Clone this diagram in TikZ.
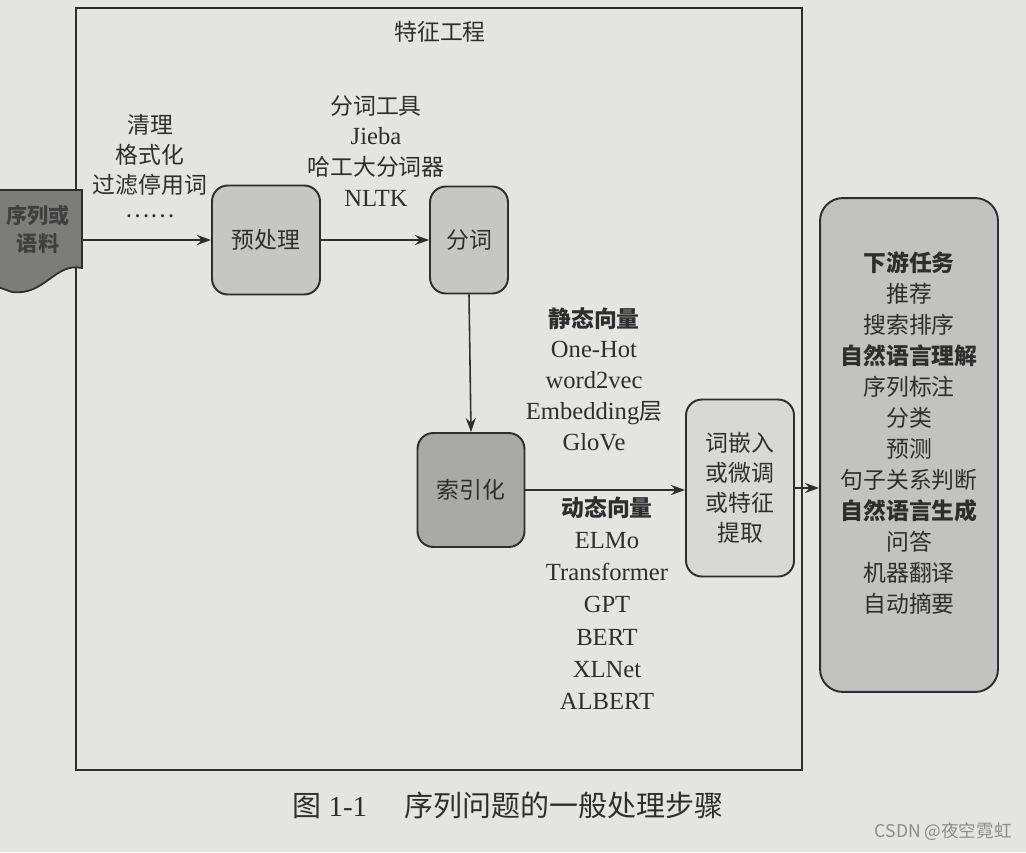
\documentclass[tikz,border=0pt]{standalone}
\usepackage{fontspec}
\setmainfont{Liberation Serif}
\newfontfamily\cjk{Noto Sans CJK SC}
\usetikzlibrary{arrows.meta}
\definecolor{paper}{HTML}{E4E4E1}
\definecolor{ink}{HTML}{2E2E2E}
\definecolor{boxA}{HTML}{C6C6C4}
\definecolor{boxB}{HTML}{A9A9A7}
\definecolor{boxC}{HTML}{D8D8D6}
\definecolor{boxD}{HTML}{C2C2C0}
\definecolor{doc}{HTML}{7C7C7A}
\tikzset{
  procbox/.style={draw=ink, line width=1.1pt, rounded corners=9pt, inner sep=0pt, align=center, font=\cjk\fontsize{13}{18}\selectfont, text=ink},
  lbl/.style={align=center, text=ink, font=\fontsize{14}{17.6}\selectfont, inner sep=0pt},
  conn/.style={draw=ink, line width=0.9pt, -{Stealth[length=0.28cm, width=0.2cm]}}
}
\begin{document}
\begin{tikzpicture}[x=0.02cm, y=-0.02cm]
\useasboundingbox (0,0) rectangle (1026,852);
\fill[paper] (0,0) rectangle (1026,852);
% frame
\draw[ink, line width=0.9pt] (76,8) rectangle (802,770);
\node[lbl, font=\cjk\fontsize{13}{17}\selectfont] (title) at (440,32) {特征工程};
% corpus document shape
\draw[ink, line width=1pt, fill=doc] (-5,190) -- (82,190) -- (82,268)
  .. controls (55,262) and (45,296) .. (12,292) -- (-5,286) -- cycle;
\node[lbl, font=\cjk\bfseries\fontsize{12}{16}\selectfont, text=black!75] (corpus) at (38,229) {序列或\\语料};
\coordinate (corpusout) at (82,240);
% boxes
\node[procbox, fill=boxA, minimum width=2.16cm, minimum height=2.18cm] (pre) at (266,240) {预处理};
\node[procbox, fill=boxA, minimum width=1.56cm, minimum height=2.14cm] (seg) at (469,240) {分词};
\node[procbox, fill=boxB, minimum width=2.14cm, minimum height=2.28cm] (idx) at (471,490) {索引化};
\node[procbox, fill=boxC, minimum width=2.16cm, minimum height=3.54cm, font=\cjk\fontsize{13}{17}\selectfont] (emb) at (740,488) {词嵌入\\或微调\\或特征\\提取};
\node[procbox, fill=boxD, minimum width=3.56cm, minimum height=9.88cm, rounded corners=13pt] (down) at (909,445) {};
% labels
\node[lbl, font=\cjk\fontsize{13}{17}\selectfont] (clean) at (150,166) {清理\\格式化\\过滤停用词\\[-3pt]……};
\node[lbl] (tools) at (376,151) {{\cjk\fontsize{13}{17.6}\selectfont 分词工具}\\Jieba\\{\cjk\fontsize{13}{17.6}\selectfont 哈工大分词器}\\NLTK};
\node[lbl, font=\fontsize{14}{17.5}\selectfont] (static) at (594,379) {{\cjk\bfseries\fontsize{13}{17.5}\selectfont 静态向量}\\One-Hot\\word2vec\\Embedding{\cjk\fontsize{13}{17.5}\selectfont 层}\\GloVe};
\node[lbl, font=\fontsize{14}{18.3}\selectfont] (dynamic) at (607,603) {{\cjk\bfseries\fontsize{13}{18.3}\selectfont 动态向量}\\ELMo\\Transformer\\GPT\\BERT\\XLNet\\ALBERT};
\node[lbl, font=\cjk\fontsize{13}{17.6}\selectfont] (tasks) at (909,433) {\textbf{下游任务}\\推荐\\搜索排序\\\textbf{自然语言理解}\\序列标注\\分类\\预测\\句子关系判断\\\textbf{自然语言生成}\\问答\\机器翻译\\自动摘要};
% connectors
\draw[conn] (corpusout) -- (pre.west);
\draw[conn] (pre.east) -- (seg.west);
\draw[conn] (seg.south) -- (idx.north);
\draw[conn] (idx.east) -- (idx.east -| emb.west);
\draw[conn] (emb.east) -- (emb.east -| down.west);
% caption
\node[lbl, anchor=west, font=\fontsize{16.5}{20}\selectfont] (caption) at (292,805) {{\cjk 图} 1-1\hspace{1.3em}{\cjk 序列问题的一般处理步骤}};
\node[lbl, anchor=east, font=\cjk\fontsize{10}{12}\selectfont, text=black!45] (mark) at (1012,832) {CSDN @夜空霓虹};
\end{tikzpicture}
\end{document}
